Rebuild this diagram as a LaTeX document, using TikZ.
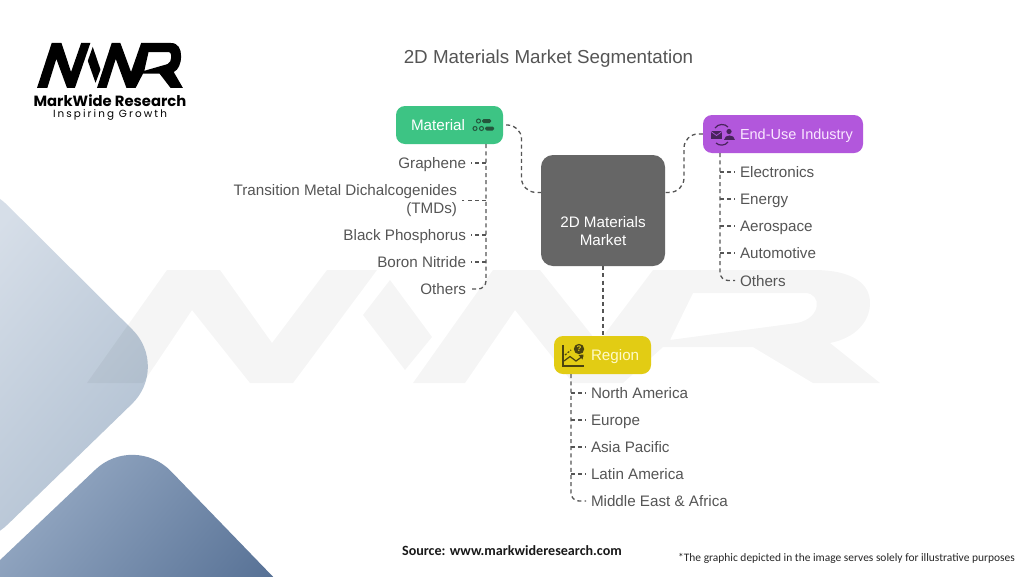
\documentclass[tikz,border=0pt]{standalone}
\usepackage{fontspec}
\setmainfont{Liberation Sans}
\newfontfamily\logofont{Poppins}
\newfontfamily\notefont{Carlito}
\definecolor{txt}{HTML}{555555}
\definecolor{matc}{HTML}{3DC484}
\definecolor{endc}{HTML}{B257DC}
\definecolor{regc}{HTML}{E2CC14}
\definecolor{ctrc}{HTML}{666666}
\definecolor{endt}{HTML}{FAE8FF}
\definecolor{regt}{HTML}{FFFAC8}
\definecolor{sa1}{HTML}{D6DEE8}
\definecolor{sa2}{HTML}{AEBED0}
\definecolor{sb1}{HTML}{9DB0C9}
\definecolor{sb2}{HTML}{587296}
\definecolor{mati}{HTML}{24553C}
\definecolor{endi}{HTML}{48245C}
\definecolor{regi}{HTML}{4A4310}
\tikzset{
  conn/.style={draw=txt,line width=1.3pt,dash pattern=on 4pt off 3.2pt},
  boxn/.style={rounded corners=9pt,inner sep=0pt,minimum height=38pt,font=\fontsize{15.2}{18}\selectfont,align=left},
  boxs/.style={boxn,text height=13pt,text depth=2pt},
  lbl/.style={text=txt,font=\fontsize{15.2}{18}\selectfont,inner sep=0pt,outer xsep=5pt,text height=13pt,text depth=2pt}
}
\newcommand{\mwrpath}{
  (87,383) -- (167,270) -- (220,270) -- (272,343) -- (327,270) -- (377,270) -- (293,383) -- (250,383) -- (192,310) -- (143,383) -- cycle
  (363,315) -- (390,280) -- (432,337) -- (405,370) -- cycle
  (413,383) -- (493,270) -- (540,270) -- (598,343) -- (653,270) -- (813,270) .. controls (855,270) and (870,285) .. (870,303) .. controls (870,322) and (855,338) .. (830,343) -- (880,383) -- (813,383) -- (753,347) -- (663,347) -- (623,383) -- (573,383) -- (515,310) -- (465,383) -- cycle
  (693,293) -- (805,293) .. controls (822,293) and (822,318) .. (797,323) -- (670,340) -- cycle
}
\begin{document}
\begin{tikzpicture}[x=1pt,y=-1pt]
\useasboundingbox (0,0) rectangle (1024,576);
\fill[white] (0,0) rectangle (1024,576);
% background shapes
\shade[rounded corners=53pt,left color=sa1,right color=sa2,shading angle=50]
  (-30,168) -- (170,367) -- (-30,561) -- cycle;
\shade[rounded corners=53pt,left color=sb1,right color=sb2,shading angle=50]
  (-40,598) -- (134,433) -- (310,615) -- cycle;
% watermark
\fill[black,opacity=.04,even odd rule] \mwrpath;
% logo
\begin{scope}[shift={(21,-64.5)},xscale=.184,yscale=.398]
\fill[black,even odd rule] \mwrpath;
\end{scope}
\node[inner sep=0pt] (brand) at (110,100.5) {\logofont\bfseries\fontsize{14.8}{16}\selectfont MarkWide Research};
\node[inner sep=0pt] (tag) at (110,115) {\logofont\addfontfeature{LetterSpace=20}\fontsize{10.4}{12}\selectfont Inspiring Growth};
% title
\node[text=txt,font=\fontsize{18.8}{22}\selectfont] (title) at (548.5,58.5) {2D Materials Market Segmentation};
% boxes
\node[boxn,fill=ctrc,text=white,minimum width=124pt,minimum height=111pt,rounded corners=12pt,align=center] (ctr) at (603,210.5) {\mbox{}\\[34pt]2D Materials\\Market};
\node[boxs,fill=matc,text=white,minimum width=107pt,text width=107pt] (mat) at (449.5,125) {\hspace*{15pt}Material};
\node[boxs,fill=endc,text=endt,minimum width=160pt,text width=160pt,font=\fontsize{14.5}{18}\selectfont] (end) at (783,134) {\hspace*{37pt}End-Use Industry};
\node[boxs,fill=regc,text=regt,minimum width=97pt,text width=97pt] (reg) at (602.5,355) {\hspace*{37pt}Region};
% Material list
\node[lbl,anchor=east] (m1) at (471,163) {Graphene};
\node[text=txt,font=\fontsize{15.2}{18}\selectfont,inner sep=0pt,outer xsep=5pt,align=right,anchor=east] (m2) at (462,200.5) {Transition Metal Dichalcogenides\\(TMDs)};
\node[lbl,anchor=east] (m3) at (471,235) {Black Phosphorus};
\node[lbl,anchor=east] (m4) at (471,262) {Boron Nitride};
\node[lbl,anchor=east] (m5) at (471,289) {Others};
% End-use list
\node[lbl,anchor=west] (e1) at (735,172) {Electronics};
\node[lbl,anchor=west] (e2) at (735,199) {Energy};
\node[lbl,anchor=west] (e3) at (735,226) {Aerospace};
\node[lbl,anchor=west] (e4) at (735,253) {Automotive};
\node[lbl,anchor=west] (e5) at (735,280.5) {Others};
% Region list
\node[lbl,anchor=west] (r1) at (586,393) {North America};
\node[lbl,anchor=west] (r2) at (586,420) {Europe};
\node[lbl,anchor=west] (r3) at (586,447) {Asia Pacific};
\node[lbl,anchor=west] (r4) at (586,474) {Latin America};
\node[lbl,anchor=west] (r5) at (586,501) {Middle East \& Africa};
% connectors hub
\coordinate (cl) at ([yshift=18pt]ctr.west);
\coordinate (cr) at ([yshift=18pt]ctr.east);
\draw[conn,rounded corners=14pt] ([xshift=3pt]mat.east) -| (521.5,192) -- (cl);
\draw[conn,rounded corners=14pt] (end.west) -| (684,192) -- (cr);
\draw[conn] (ctr.south) -- (ctr.south |- reg.north);
% material tree
\coordinate (mt) at ([xshift=36.5pt]mat.south);
\draw[conn,rounded corners=8pt] (mt) -- (mt |- m5.east) -- (m5.east);
\foreach \n in {m1,m2,m3,m4} \draw[conn] (mt |- \n.east) -- (\n.east);
% end-use tree
\coordinate (et) at ([xshift=-63pt]end.south);
\draw[conn,rounded corners=8pt] (et) -- (et |- e5.west) -- (e5.west);
\foreach \n in {e1,e2,e3,e4} \draw[conn] (et |- \n.west) -- (\n.west);
% region tree
\coordinate (rt) at ([xshift=-31.5pt]reg.south);
\draw[conn,rounded corners=8pt] (rt) -- (rt |- r5.west) -- (r5.west);
\foreach \n in {r1,r2,r3,r4} \draw[conn] (rt |- \n.west) -- (\n.west);
% material icon
\begin{scope}[line width=1pt]
\draw[mati] (478.5,121) circle (2pt) (475,128.5) circle (2pt) (481.5,128.5) circle (2pt);
\fill[mati,rounded corners=1.5pt] (482,119) rectangle (491,123);
\fill[mati,rounded corners=1.5pt] (485,126.5) rectangle (494,130.5);
\end{scope}
% end-use icon
\begin{scope}[line width=1.2pt]
\fill[endi] (711,131) rectangle (722,139);
\draw[endc,line width=.7pt] (711,131.5) -- (716.5,135.5) -- (722,131.5);
\fill[endi] (729,131.5) circle (2.6pt);
\fill[endi] (723.5,140) .. controls (723.5,134) and (734.5,134) .. (734.5,140) -- cycle;
\draw[endi] (715,128) .. controls (718,123.5) and (725,123.5) .. (728,127);
\draw[endi] (716,143) .. controls (719,146) and (725,146) .. (728,142);
\end{scope}
% region icon
\begin{scope}[line width=1.2pt]
\draw[regi] (563,345) -- (563,366) -- (584,366);
\draw[regi] (564,361) -- (570,356.5) -- (576,361) -- (583,356);
\fill[regi] (583.5,354.5) -- (578.5,355) -- (582.5,359.5) -- cycle;
\draw[regi,dash pattern=on 2pt off 1.5pt] (565,355) -- (571,350);
\fill[regi] (579,349) circle (5.2pt);
\node[text=regc,font=\bfseries\fontsize{8}{8}\selectfont,inner sep=0pt] (qm) at (579,349) {?};
\end{scope}
% footers
\node[font=\notefont\bfseries\fontsize{14.1}{16}\selectfont,text=black!90] (src) at (512,551) {Source: www.markwideresearch.com};
\node[font=\notefont\fontsize{11.45}{14}\selectfont,text=black!85] (note) at (846.5,558) {*The graphic depicted in the image serves solely for illustrative purposes};
\end{tikzpicture}
\end{document}
